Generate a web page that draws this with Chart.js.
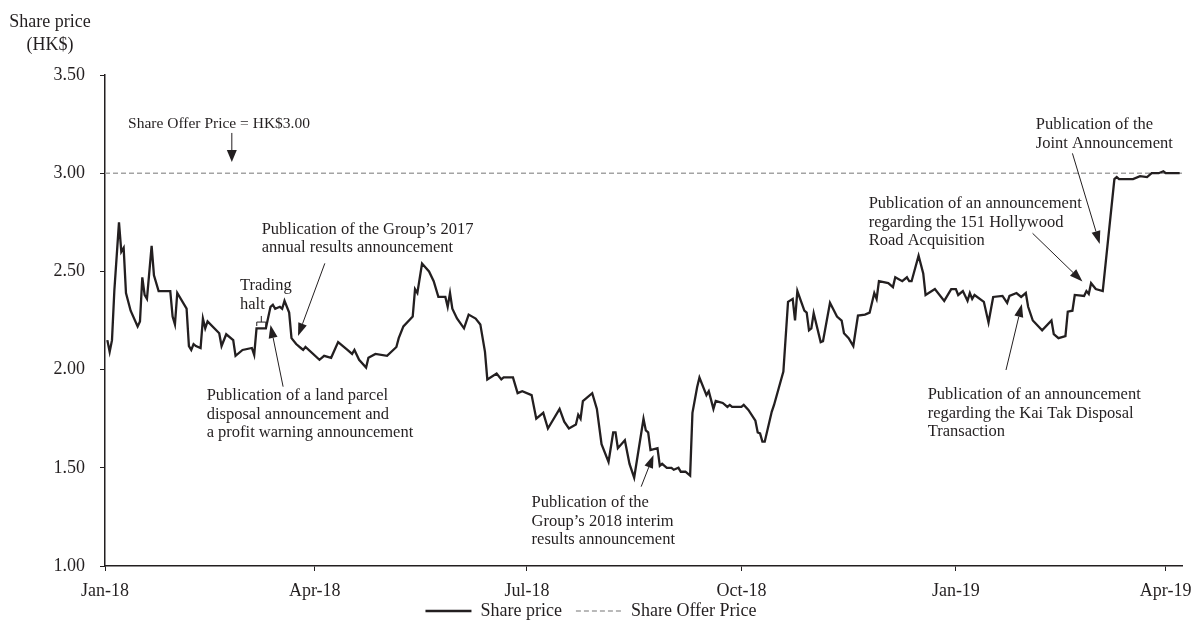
<!DOCTYPE html>
<html>
<head>
<meta charset="utf-8">
<title>Share price</title>
<script src="https://cdn.jsdelivr.net/npm/chart.js@4.4.1/dist/chart.umd.min.js"></script>
<style>
  html, body { margin: 0; padding: 0; background: #fff; }
  #wrap { width: 1195px; height: 621px; }
</style>
</head>
<body>
<div id="wrap"><canvas id="priceChart" width="1195" height="621"></canvas></div>
<script>
// x values are days counted from 1 Jan 2018
const tickDays = [0, 90, 181, 273, 365, 455];
const tickLabels = ['Jan-18', 'Apr-18', 'Jul-18', 'Oct-18', 'Jan-19', 'Apr-19'];
const lastDay = 462;
const offerPrice = 3.00;

const priceDays = [
  1, 2, 3, 4, 6, 7, 8, 9, 11, 14, 15, 16, 17, 18, 20, 21, 23, 28, 29, 30,
  31, 35, 36, 37, 38, 39, 41, 42, 43, 44, 49, 50, 52, 55, 56, 59, 63, 64, 65, 69,
  71, 72, 73, 75, 76, 77, 79, 80, 82, 84, 85, 86, 92, 94, 97, 100, 104, 106, 107, 109,
  112, 113, 116, 121, 125, 126, 128, 132, 133, 134, 136, 139, 141, 143, 146, 147, 148, 149, 151, 154,
  156, 159, 161, 163, 164, 168, 170, 171, 175, 177, 179, 183, 185, 188, 190, 195, 197, 199, 202, 203,
  204, 205, 209, 211, 213, 216, 218, 219, 220, 223, 225, 227, 231, 232, 233, 234, 237, 238, 239, 241,
  243, 244, 246, 247, 249, 251, 252, 254, 255, 258, 259, 261, 262, 265, 267, 268, 269, 273, 274, 276,
  279, 280, 281, 282, 283, 286, 287, 289, 291, 293, 295, 296, 297, 300, 301, 302, 303, 304, 307, 308,
  311, 314, 316, 317, 319, 321, 323, 326, 328, 330, 331, 332, 336, 338, 339, 342, 344, 345, 346, 349,
  351, 352, 356, 360, 363, 365, 366, 368, 370, 371, 372, 373, 377, 379, 381, 385, 387, 388, 391, 393,
  395, 396, 398, 402, 406, 407, 409, 412, 413, 415, 416, 420, 421, 422, 423, 425, 428, 433, 434, 435,
  441, 444, 447, 449, 452, 454, 455, 461
];
const prices = [
  2.15, 2.09, 2.15, 2.40, 2.75, 2.60, 2.62, 2.39, 2.30, 2.22, 2.245, 2.47, 2.38, 2.36, 2.63, 2.48, 2.40, 2.40, 2.27, 2.23,
  2.39, 2.31, 2.12, 2.10, 2.13, 2.12, 2.11, 2.26, 2.21, 2.245, 2.185, 2.12, 2.18, 2.15, 2.07, 2.10, 2.11, 2.075, 2.21, 2.21,
  2.32, 2.33, 2.31, 2.32, 2.31, 2.35, 2.29, 2.16, 2.13, 2.11, 2.10, 2.115, 2.05, 2.07, 2.06, 2.14, 2.10, 2.08, 2.10, 2.05,
  2.01, 2.06, 2.08, 2.07, 2.115, 2.16, 2.22, 2.27, 2.41, 2.39, 2.54, 2.50, 2.45, 2.37, 2.37, 2.32, 2.39, 2.31, 2.26, 2.21,
  2.28, 2.26, 2.23, 2.09, 1.95, 1.98, 1.95, 1.96, 1.96, 1.88, 1.89, 1.87, 1.75, 1.78, 1.70, 1.80, 1.735, 1.70, 1.72, 1.77,
  1.75, 1.84, 1.88, 1.80, 1.62, 1.53, 1.68, 1.68, 1.60, 1.64, 1.52, 1.45, 1.75, 1.69, 1.68, 1.59, 1.60, 1.51, 1.52, 1.50,
  1.50, 1.49, 1.50, 1.48, 1.48, 1.46, 1.78, 1.91, 1.96, 1.87, 1.89, 1.80, 1.84, 1.83, 1.81, 1.82, 1.81, 1.81, 1.82, 1.795,
  1.74, 1.68, 1.675, 1.633, 1.633, 1.785, 1.82, 1.905, 1.99, 2.345, 2.36, 2.25, 2.40, 2.30, 2.29, 2.20, 2.21, 2.287, 2.14, 2.145,
  2.34, 2.27, 2.25, 2.185, 2.16, 2.12, 2.275, 2.28, 2.29, 2.39, 2.36, 2.45, 2.44, 2.42, 2.47, 2.45, 2.47, 2.45, 2.45, 2.58,
  2.49, 2.38, 2.41, 2.35, 2.41, 2.41, 2.38, 2.40, 2.35, 2.39, 2.36, 2.38, 2.345, 2.24, 2.37, 2.375, 2.34, 2.375, 2.39, 2.37,
  2.39, 2.32, 2.25, 2.20, 2.25, 2.18, 2.16, 2.17, 2.295, 2.30, 2.38, 2.375, 2.40, 2.385, 2.44, 2.41, 2.40, 2.97, 2.98, 2.97,
  2.97, 2.985, 2.98, 3.00, 3.00, 3.01, 3.00, 3.00
];

// annotation text + arrows, placed in chart units (day, price)
const notes = [
  { lines: ['Share Offer Price = HK$3.00'], day: 9.9, price: 3.25, arrow: [54.4, 3.205, 54.4, 3.057], head: 'big', small: true },
  { lines: ['Publication of the Group\u2019s 2017', 'annual results announcement'], day: 67.2, price: 2.714, arrow: [94.3, 2.541, 82.8, 2.171] },
  { lines: ['Trading', 'halt'], day: 57.9, price: 2.426 },
  { lines: ['Publication of a land parcel', 'disposal announcement and', 'a profit warning announcement'], day: 43.6, price: 1.867, arrow: [76.4, 1.913, 71.0, 2.227] },
  { lines: ['Publication of the', 'Group\u2019s 2018 interim', 'results announcement'], day: 183.0, price: 1.322, arrow: [230.0, 1.404, 235.3, 1.565] },
  { lines: ['Publication of an announcement', 'regarding the 151 Hollywood', 'Road Acquisition'], day: 327.6, price: 2.843, arrow: [397.9, 2.694, 419.3, 2.448] },
  { lines: ['Publication of the', 'Joint Announcement'], day: 399.3, price: 3.245, arrow: [415.0, 3.101, 426.7, 2.640] },
  { lines: ['Publication of an announcement', 'regarding the Kai Tak Disposal', 'Transaction'], day: 352.9, price: 1.871, arrow: [386.5, 1.998, 393.3, 2.334] }
];

const ink = '#231f20';
const serif = '"Liberation Serif", "Times New Roman", serif';

function drawArrow(ctx, x1, y1, x2, y2, big) {
  const len = big ? 12 : 13;
  const half = big ? 5 : 4.5;
  const ang = Math.atan2(y2 - y1, x2 - x1);
  const bx = x2 - Math.cos(ang) * len;
  const by = y2 - Math.sin(ang) * len;
  ctx.beginPath();
  ctx.moveTo(x1, y1);
  ctx.lineTo(bx, by);
  ctx.stroke();
  ctx.beginPath();
  ctx.moveTo(x2, y2);
  ctx.lineTo(bx + Math.sin(ang) * half, by - Math.cos(ang) * half);
  ctx.lineTo(bx - Math.sin(ang) * half, by + Math.cos(ang) * half);
  ctx.closePath();
  ctx.fill();
}

const notesPlugin = {
  id: 'notes',
  afterLayout(chart) {
    // pull the legend row up a little, closer to the axis labels
    chart.legend.top -= 14;
    chart.legend.bottom -= 14;
  },
  afterDatasetsDraw(chart) {
    const { ctx, scales: { x, y } } = chart;
    ctx.save();
    ctx.fillStyle = ink;
    ctx.strokeStyle = ink;
    ctx.lineWidth = 1;
    ctx.textBaseline = 'middle';
    ctx.textAlign = 'left';
    notes.forEach(n => {
      ctx.font = (n.small ? '15.5px ' : '16.5px ') + serif;
      const px = x.getPixelForValue(n.day);
      const py = y.getPixelForValue(n.price);
      n.lines.forEach((t, i) => ctx.fillText(t, px, py + i * 18.5));
      if (n.arrow) {
        const a = n.arrow;
        drawArrow(ctx, x.getPixelForValue(a[0]), y.getPixelForValue(a[1]),
          x.getPixelForValue(a[2]), y.getPixelForValue(a[3]), n.head === 'big');
      }
    });

    // small bracket under "Trading halt"
    const bl = x.getPixelForValue(65.1), br = x.getPixelForValue(69.0);
    const bt = y.getPixelForValue(2.242), bb = y.getPixelForValue(2.222);
    ctx.beginPath();
    ctx.moveTo(bl, bb); ctx.lineTo(bl, bt); ctx.lineTo(br, bt); ctx.lineTo(br, bb);
    ctx.moveTo((bl + br) / 2, bt); ctx.lineTo((bl + br) / 2, y.getPixelForValue(2.273));
    ctx.stroke();

    // axis title
    ctx.font = '18px ' + serif;
    ctx.textAlign = 'center';
    const cx = chart.chartArea.left - 55;
    ctx.fillText('Share price', cx, chart.chartArea.top - 53);
    ctx.fillText('(HK$)', cx, chart.chartArea.top - 30);
    ctx.restore();
  }
};

new Chart(document.getElementById('priceChart'), {
  type: 'line',
  data: {
    datasets: [
      {
        label: 'Share price',
        data: priceDays.map((d, i) => ({ x: d, y: prices[i] })),
        borderColor: ink,
        borderWidth: 2.3,
        pointRadius: 0,
        tension: 0,
        order: 1
      },
      {
        label: 'Share Offer Price',
        data: [{ x: 0, y: offerPrice }, { x: lastDay, y: offerPrice }],
        borderColor: '#a3a3a3',
        borderWidth: 1.6,
        borderDash: [5, 3],
        pointRadius: 0,
        order: 2
      }
    ]
  },
  options: {
    responsive: false,
    animation: false,
    layout: { padding: { top: 75, right: 13, left: 0, bottom: -23 } },
    plugins: {
      legend: {
        position: 'bottom',
        labels: {
          usePointStyle: true,
          pointStyle: 'line',
          pointStyleWidth: 46,
          padding: 14,
          color: ink,
          font: { family: serif, size: 18 },
          generateLabels: chart => chart.data.datasets.map((ds, i) => ({
            text: ds.label,
            datasetIndex: i,
            fillStyle: ds.borderColor,
            strokeStyle: ds.borderColor,
            lineWidth: ds.borderWidth,
            lineDash: ds.borderDash || [],
            pointStyle: 'line',
            fontColor: ink,
            hidden: false
          }))
        }
      },
      tooltip: { enabled: false }
    },
    scales: {
      x: {
        type: 'linear',
        min: 0,
        max: lastDay,
        afterBuildTicks: scale => { scale.ticks = tickDays.map(v => ({ value: v })); },
        afterFit: scale => {
          scale.height = 36;
          scale.paddingLeft = 0;
          scale.paddingRight = 0;
        },
        ticks: {
          autoSkip: false,
          maxRotation: 0,
          padding: 9,
          color: ink,
          font: { family: serif, size: 18 },
          callback: (value, index) => tickLabels[index]
        },
        grid: { drawOnChartArea: false, drawTicks: true, tickLength: 5, color: ink, lineWidth: 1 },
        border: { color: ink, width: 1.5 }
      },
      y: {
        min: 1,
        max: 3.5,
        afterFit: scale => { scale.width = 105; },
        ticks: {
          stepSize: 0.5,
          padding: 15,
          color: ink,
          font: { family: serif, size: 18 },
          callback: v => v.toFixed(2)
        },
        grid: { drawOnChartArea: false, drawTicks: true, tickLength: 5, color: ink, lineWidth: 1 },
        border: { color: ink, width: 1.5 }
      }
    }
  },
  plugins: [notesPlugin]
});
</script>
</body>
</html>
